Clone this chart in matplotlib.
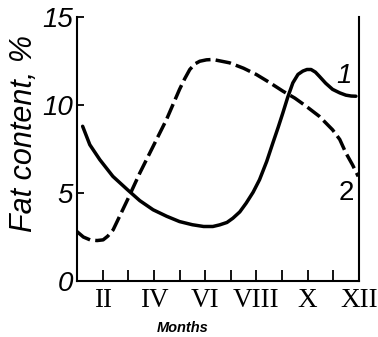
import matplotlib.pyplot as plt

# curve 1 (solid)
mes1 = [1.22, 1.5, 1.89, 2.4, 2.97, 3.45, 3.97, 4.5, 5.0, 5.5, 5.94, 6.3, 6.56, 6.85,
        7.08, 7.35, 7.6, 7.87, 8.12, 8.4, 8.64, 8.85, 9.03, 9.22, 9.42, 9.62, 9.81,
        9.97, 10.13, 10.3, 10.45, 10.7, 10.97, 11.25, 11.49, 11.7, 11.88]
gord1 = [8.8, 7.75, 6.9, 5.95, 5.19, 4.57, 4.05, 3.68, 3.38, 3.2, 3.1, 3.1, 3.19, 3.33,
         3.57, 3.93, 4.43, 5.05, 5.76, 6.8, 7.85, 8.75, 9.56, 10.45, 11.27, 11.75, 11.94,
         12.03, 12.03, 11.88, 11.65, 11.25, 10.9, 10.7, 10.57, 10.52, 10.51]

# curve 2 (dashed)
mes2 = [1.0, 1.25, 1.51, 1.78, 2.02, 2.2, 2.41, 2.97, 3.45, 3.97, 4.49, 5.0, 5.2,
        5.4, 5.6, 5.79, 6.05, 6.3, 6.95, 7.5, 7.99, 8.5, 9.03, 9.5, 9.94, 10.45, 10.97,
        11.25, 11.49, 11.75, 11.97]
gord2 = [2.81, 2.5, 2.34, 2.3, 2.34, 2.55, 2.91, 4.62, 6.14, 7.66, 9.18, 10.9, 11.5,
         12.03, 12.35, 12.5, 12.58, 12.6, 12.41, 12.1, 11.75, 11.3, 10.8, 10.4, 9.94, 9.37, 8.6,
         8.05, 7.28, 6.6, 5.95]

meses_pos = [2, 4, 6, 8, 10, 12]
meses_rom = ['II', 'IV', 'VI', 'VIII', 'X', 'XII']
y_ticks = [0, 5, 10, 15]

fig = plt.figure(figsize=(3.78, 3.37), dpi=100)
ax = fig.add_axes([0.2037, 0.1662, 0.746, 0.7825])

ax.plot(mes1, gord1, color='black', lw=2.5, solid_capstyle='round')
ax.plot(mes2, gord2, color='black', lw=2.5, dashes=(4.5, 1.5))

ax.set_xlim(1, 12)
ax.set_ylim(0, 15)

ax.spines['top'].set_visible(False)
for s in ['left', 'right', 'bottom']:
    ax.spines[s].set_linewidth(1.5)

ax.set_xticks(range(2, 12))
ax.set_xticklabels([''] * 10)
ax.tick_params(axis='x', direction='in', length=8, width=1.3)
for p, r in zip(meses_pos, meses_rom):
    ax.text(p, -1.48, r, ha='center', va='baseline', fontsize=19.5,
            family='Liberation Serif', clip_on=False)

ax.set_yticks(y_ticks)
ax.set_yticklabels([str(v) for v in y_ticks], fontsize=20, style='italic',
                   family='Liberation Sans')
ax.tick_params(axis='y', direction='in', length=5, width=1.3, pad=3)

ax.set_ylabel('Fat content, %', fontsize=22, style='italic',
              family='Liberation Sans')
ax.yaxis.set_label_coords(-0.135, 0.56)
ax.text(5.12, -2.91, 'Months', ha='center', va='baseline', fontsize=10.5,
        style='italic', weight='bold', family='Liberation Sans')

ax.text(11.43, 11.64, '1', fontsize=20, style='italic', ha='center', va='center',
        family='Liberation Sans')
ax.text(11.5, 5.02, '2', fontsize=20, ha='center', va='center',
        family='Liberation Sans')

plt.savefig('out.png', dpi=100)
